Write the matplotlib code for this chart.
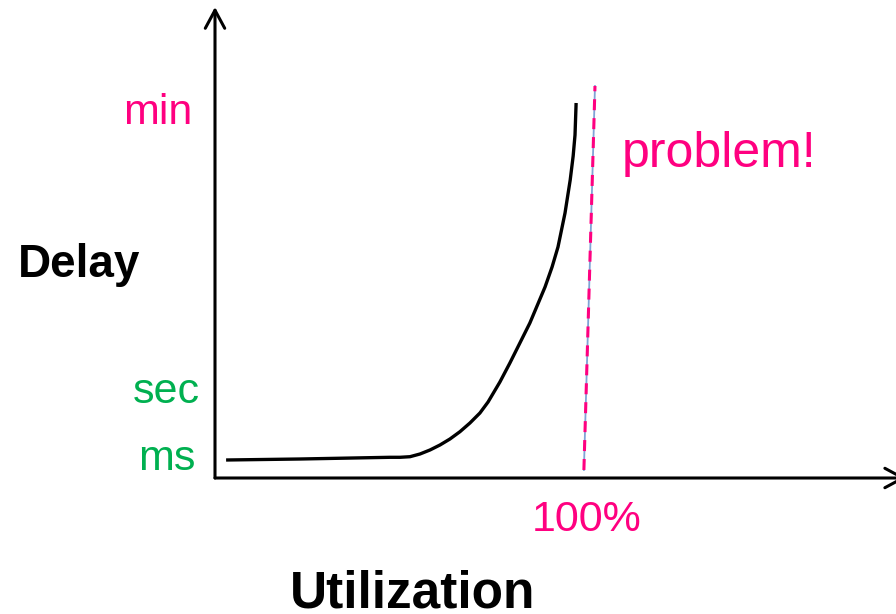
import matplotlib
matplotlib.use("Agg")
import matplotlib.pyplot as plt

plt.rcParams['font.family'] = ['Liberation Sans', 'DejaVu Sans']

# Delay curve: utilization (%) vs delay level (arbitrary units above axis)
util = [3.0, 23.0, 47.3, 50.0, 52.7, 55.4, 58.1, 60.8, 63.5, 66.2, 68.9, 71.6,
        73.8, 77.0, 79.7, 82.4, 85.1, 89.2, 91.1, 92.7, 94.6, 96.0,
        96.8, 97.3, 97.6]
delay = [18, 19, 20.7, 20.7, 21.3, 24, 28, 33, 39, 46.3, 55, 65,
         76, 96, 115, 135, 155, 191, 211, 231, 265, 298,
         322, 343, 375]

# 100% marker line (slightly slanted, as drawn)
limit_util = [99.7, 102.7]
limit_delay = [8, 392]

# Delay level labels
level_names = ['ms', 'sec', 'min']
level_x = [-5.4, -4.05, -6.2]
level_pos = [8, 75, 354]
level_colors = ['#00B050', '#00B050', '#FF0080']

PINK = '#FF0080'

fig = plt.figure(figsize=(8.96, 6.14), dpi=100)
ax = fig.add_axes([0, 0, 1, 1])
ax.set_xlim(-215 / 3.7, 681 / 3.7)
ax.set_ylim(-136, 478)
ax.axis('off')

# axes with open arrow heads
arrow = dict(arrowstyle='->,head_length=1.3,head_width=0.7',
             mutation_scale=10, lw=2.2, color='black', shrinkA=0, shrinkB=0)
ax.annotate('', xy=(0, 471), xytext=(0, 0), arrowprops=arrow,
            annotation_clip=False)
ax.annotate('', xy=(186.8, 0), xytext=(0, 0), arrowprops=arrow,
            annotation_clip=False)

# curve
ax.plot(util, delay, color='black', lw=2.4, solid_capstyle='butt',
        solid_joinstyle='round')

# limit line: thin blue with pink dashes on top
ax.plot(limit_util, limit_delay, color='#7FA3D6', lw=1.3)
ax.plot(limit_util, limit_delay, color=PINK, lw=2.2, dashes=(3.6, 2.6))

# level labels (right aligned left of y axis)
for name, x, pos, col in zip(level_names, level_x, level_pos, level_colors):
    ax.text(x, pos, name, color=col, fontsize=31, ha='right', va='baseline')

ax.text(100.4, -53, '100%', color=PINK, fontsize=31, ha='center', va='baseline')
ax.text(110.0, 311, 'problem!', color=PINK, fontsize=36, ha='left', va='baseline')
ax.text(-53.2, 201, 'Delay', color='black', fontsize=33, fontweight='bold',
        ha='left', va='baseline')
ax.text(53.4, -130, 'Utilization', color='black', fontsize=37, fontweight='bold',
        ha='center', va='baseline')

fig.savefig('out.png', dpi=100)
